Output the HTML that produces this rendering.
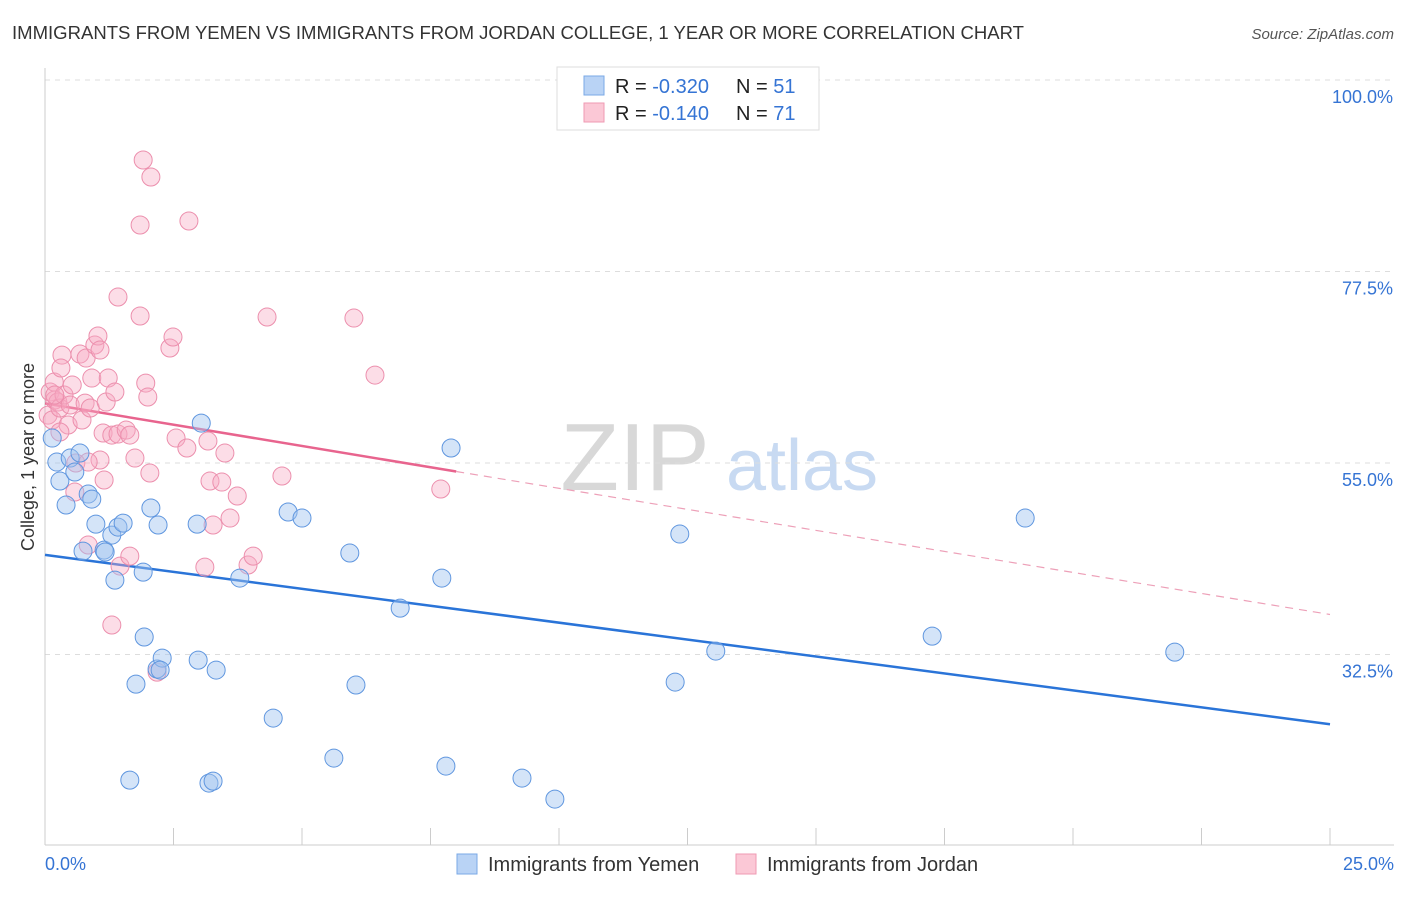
<!DOCTYPE html>
<html><head><meta charset="utf-8"><style>
body{margin:0;background:#fff;font-family:"Liberation Sans",sans-serif;}
svg text{font-family:"Liberation Sans",sans-serif;}
</style></head><body>
<svg id="chart" width="1406" height="892" xmlns="http://www.w3.org/2000/svg">
<text x="12" y="39" font-size="18" fill="#333" textLength="1012" lengthAdjust="spacingAndGlyphs">IMMIGRANTS FROM YEMEN VS IMMIGRANTS FROM JORDAN COLLEGE, 1 YEAR OR MORE CORRELATION CHART</text>
<text x="1394" y="39" font-size="15" fill="#555" font-style="italic" text-anchor="end">Source: ZipAtlas.com</text>
<g>
<text x="635" y="490" font-size="96" fill="#d8d8d8" text-anchor="middle" font-family="Liberation Serif">ZIP</text>
<text x="802" y="490" font-size="72" fill="#c8daf2" text-anchor="middle">atlas</text>
</g>
<g id="grid"></g><g id="axes"></g><g id="trends"></g><g id="pts"></g>
<text transform="translate(34,457) rotate(-90)" font-size="18" fill="#333" text-anchor="middle">College, 1 year or more</text>
<g>
<rect x="557" y="67" width="262" height="63" fill="#fff" stroke="#ddd"/>
<rect x="584" y="76" width="20" height="19" fill="#b9d3f5" stroke="#7aa8e6"/>
<rect x="584" y="103" width="20" height="19" fill="#fbc8d6" stroke="#ef9ab3"/>
<text x="615" y="93" font-size="20" fill="#222">R = <tspan fill="#3574d4">-0.320</tspan><tspan x="736">N = </tspan><tspan fill="#3574d4">51</tspan></text>
<text x="615" y="120" font-size="20" fill="#222">R = <tspan fill="#3574d4"> -0.140</tspan><tspan x="736">N = </tspan><tspan fill="#3574d4">71</tspan></text>
</g>
<g>
<rect x="457" y="854" width="20" height="20" fill="#b9d3f5" stroke="#7aa8e6"/>
<text x="488" y="871" font-size="20" fill="#333">Immigrants from Yemen</text>
<rect x="736" y="854" width="20" height="20" fill="#fbc8d6" stroke="#ef9ab3"/>
<text x="767" y="871" font-size="20" fill="#333">Immigrants from Jordan</text>
</g>
</svg>
<script>
const yTicks=[100,77.5,55,32.5];
const yTickLabels=["100.0%","77.5%","55.0%","32.5%"];
const xTickLabels=["0.0%","25.0%"];
const yemenX=[0.14,0.23,0.29,0.41,0.49,0.58,0.68,0.84,0.91,0.99,0.74,1.15,1.30,1.36,1.42,1.52,1.65,1.77,1.91,1.93,2.06,2.18,2.20,2.28,2.96,2.98,3.04,3.19,3.27,3.33,3.79,4.44,4.73,5.00,5.62,5.93,6.05,6.91,7.72,7.80,7.90,9.28,9.92,12.26,12.35,13.05,17.26,19.07,21.98,1.17,2.24];
const yemenY=[57.93,55.11,52.88,50.06,55.58,53.94,56.17,51.35,50.76,47.82,44.65,44.77,46.53,41.24,47.47,47.94,17.74,29.02,42.18,34.55,49.71,30.79,47.71,32.08,47.82,31.84,59.69,17.39,17.62,30.67,41.48,25.03,49.24,48.53,20.33,44.42,28.91,37.95,41.48,19.39,56.76,17.98,15.51,29.26,46.65,32.90,34.66,48.53,32.78,44.54,30.67];
const jordanX=[0.06,0.14,0.10,0.19,0.25,0.18,0.29,0.33,0.31,0.37,0.45,0.49,0.53,0.58,0.60,0.68,0.72,0.78,0.80,0.84,0.88,0.91,0.97,1.03,1.07,1.13,1.15,1.19,1.23,1.30,1.36,1.42,1.30,1.42,1.46,1.58,1.65,1.75,1.85,1.85,1.91,1.96,2.00,2.04,2.06,2.18,2.43,2.49,2.55,2.76,2.80,3.11,3.17,3.21,3.27,3.44,3.50,3.60,3.74,3.95,4.05,4.32,4.61,6.01,6.42,7.70,0.29,0.19,1.65,1.07,0.84];
const jordanY=[60.63,60.05,63.34,62.40,62.16,64.51,61.46,67.68,66.16,62.99,59.46,61.81,64.16,51.59,55.00,67.80,60.05,62.04,67.33,45.36,61.46,64.98,68.86,69.92,68.27,58.52,53.00,62.16,64.98,58.28,63.34,58.40,35.96,74.50,42.89,58.87,44.06,55.58,72.27,82.96,90.60,64.39,62.75,53.82,88.60,30.43,68.51,69.80,57.93,56.76,83.43,42.77,57.58,52.88,47.71,52.76,56.17,48.53,51.12,43.01,44.06,72.15,53.47,72.03,65.33,51.94,58.64,62.99,58.28,55.35,55.11];
const yemenTrend=[0,44.2,25,24.3];
const jordanTrend=[0,62.0,8.0,54.0,25,37.2];
const NS="http://www.w3.org/2000/svg";
const X=v=>45+v/25*1285, Y=v=>80+(100-v)*8.511;
function mk(t,a,p){const e=document.createElementNS(NS,t);for(const k in a)e.setAttribute(k,a[k]);document.getElementById(p).appendChild(e);return e;}
yTicks.forEach((t,i)=>{
 const l=mk('line',{x1:45,x2:1394,y1:Y(t),y2:Y(t),stroke:'#ddd','stroke-dasharray':'5,5'},'grid');
 
 
 const tx=mk('text',{x:1393,y:Y(t)+23,'font-size':18,fill:'#3574d4','text-anchor':'end'},'axes');tx.textContent=yTickLabels[i];
 
 
});
let ax=mk('line',{x1:45,x2:45,y1:68,y2:845,stroke:'#ccc'},'axes');


ax=mk('line',{x1:45,x2:1394,y1:845,y2:845,stroke:'#ccc'},'axes');


for(let i=1;i<=10;i++){const t=mk('line',{x1:X(i*2.5),x2:X(i*2.5),y1:828,y2:845,stroke:'#ccc'},'axes');
 
 }
[[0,45,'start'],[25,1394,'end']].forEach((d,i)=>{const t=mk('text',{x:d[1],y:870,'font-size':18,fill:'#3574d4','text-anchor':d[2]},'axes');t.textContent=xTickLabels[i];
 
 });
let tl=mk('line',{x1:X(yemenTrend[0]),y1:Y(yemenTrend[1]),x2:X(yemenTrend[2]),y2:Y(yemenTrend[3]),stroke:'#2a74d8','stroke-width':2.5},'trends');


tl=mk('line',{x1:X(jordanTrend[0]),y1:Y(jordanTrend[1]),x2:X(jordanTrend[2]),y2:Y(jordanTrend[3]),stroke:'#e8648e','stroke-width':2.5},'trends');


tl=mk('line',{x1:X(jordanTrend[2]),y1:Y(jordanTrend[3]),x2:X(jordanTrend[4]),y2:Y(jordanTrend[5]),stroke:'#eda0b8','stroke-width':1.2,'stroke-dasharray':'8,6'},'trends');


jordanX.forEach((x,i)=>{const c=mk('circle',{cx:X(x),cy:Y(jordanY[i]),r:9,fill:'rgba(247,170,195,0.4)',stroke:'#ec8fad','stroke-width':1},'pts');
 
 });
yemenX.forEach((x,i)=>{const c=mk('circle',{cx:X(x),cy:Y(yemenY[i]),r:9,fill:'rgba(160,195,240,0.45)',stroke:'#5f96df','stroke-width':1},'pts');
 
 });
</script>
</body></html>
